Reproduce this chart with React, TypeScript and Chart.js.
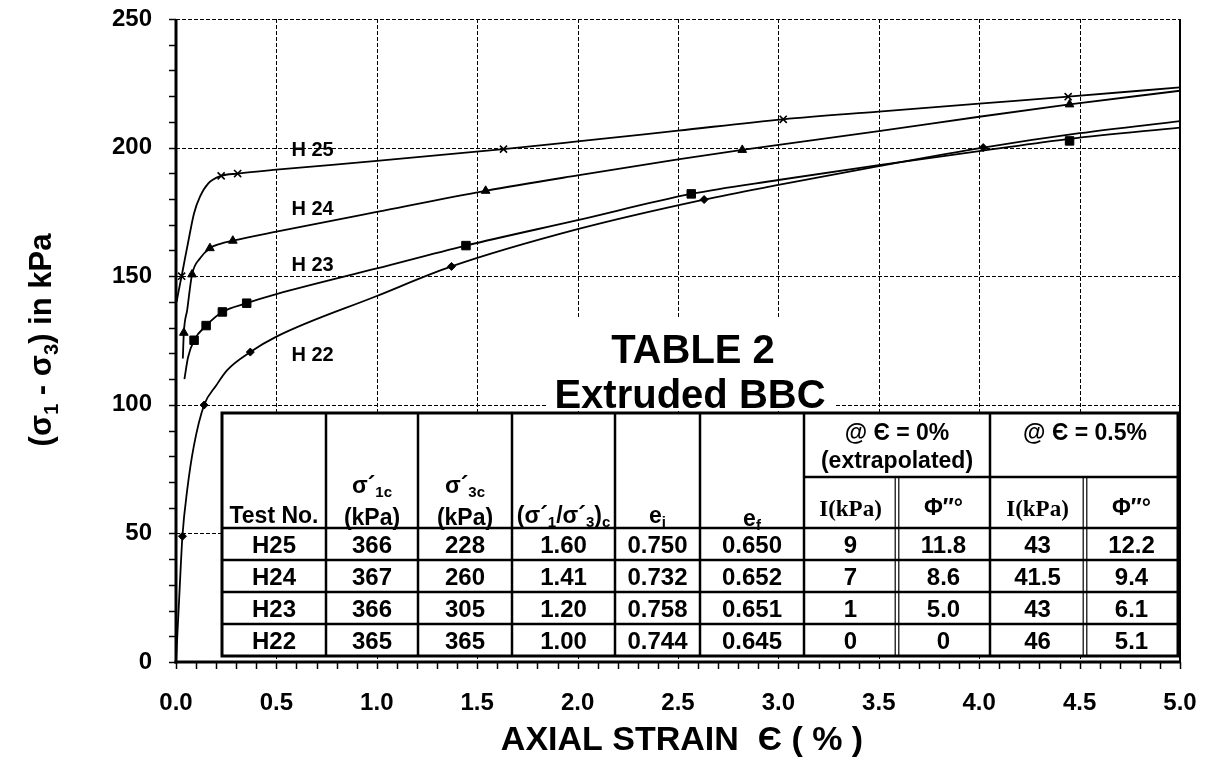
import { useEffect, useRef } from 'react';
import { Chart, registerables } from 'chart.js';

Chart.register(...registerables);

// ---- Test readings: axial strain (%) and deviator stress (kPa) ----
const h25Strain = [0.028, 0.225, 0.307, 1.631, 3.024, 4.443];
const h25Stress = [150.0, 189.0, 189.9, 199.4, 211.0, 219.8];

const h24Strain = [0.039, 0.08, 0.169, 0.283, 1.542, 2.82, 4.45];
const h24Stress = [128.0, 150.7, 160.9, 163.8, 183.2, 199.1, 216.8];

const h23Strain = [0.09, 0.15, 0.231, 0.352, 1.444, 2.566, 4.45];
const h23Stress = [125.1, 130.8, 136.1, 139.5, 161.9, 182.0, 202.6];

const h22Strain = [0.032, 0.14, 0.37, 1.372, 2.63, 4.02];
const h22Stress = [48.9, 99.9, 120.5, 153.8, 179.8, 200.0];

// ---- Smoothed stress–strain curves ----
const h25CurveStrain = [0.003, 0.015, 0.028, 0.045, 0.06, 0.09, 0.12, 0.16, 0.225, 0.307, 0.5, 1.0, 1.631, 2.0, 2.5, 3.024, 3.5, 4.0, 4.443, 5.0];
const h25CurveStress = [140, 145, 150, 157, 163, 174.5, 181, 186, 189.0, 189.9, 191.4, 194.8, 199.4, 202.4, 206.6, 211.0, 214.0, 217.1, 219.8, 223.4];

const h24CurveStrain = [0.034, 0.039, 0.056, 0.064, 0.08, 0.12, 0.169, 0.22, 0.283, 0.5, 1.0, 1.542, 2.0, 2.5, 2.82, 3.5, 4.0, 4.45, 5.0];
const h24CurveStress = [118, 128, 137, 142, 150.7, 157, 160.9, 162.6, 163.8, 167.3, 175.0, 183.2, 189.2, 195.4, 199.1, 206.4, 212.0, 216.8, 222.1];

const h23CurveStrain = [0.042, 0.06, 0.09, 0.15, 0.231, 0.352, 0.5, 1.0, 1.444, 2.0, 2.566, 3.0, 3.5, 4.0, 4.45, 5.0];
const h23CurveStress = [110, 118.5, 125.1, 130.8, 136.1, 139.5, 143, 153, 161.9, 171.8, 182.0, 187.4, 193.2, 198.6, 203.4, 207.8];

const h22CurveStrain = [0, 0.016, 0.032, 0.056, 0.089, 0.14, 0.2, 0.255, 0.37, 0.5, 1.0, 1.372, 2.0, 2.63, 3.0, 3.5, 4.02, 4.5, 5.0];
const h22CurveStress = [0, 25, 48.9, 67, 84, 99.9, 107.5, 113.5, 120.5, 126.5, 142.3, 153.8, 168.3, 179.8, 185.5, 192.8, 200.0, 205.6, 210.3];

// Curve tags: text, strain at left edge, stress at text centre
const curveTags = ['H 25', 'H 24', 'H 23', 'H 22'];
const curveTagStrain = [0.575, 0.575, 0.575, 0.575];
const curveTagStress = [199.6, 176.5, 154.7, 119.7];

// ---- Table 2 contents ----
const testNo = ['H25', 'H24', 'H23', 'H22'];
const sigma1c = ['366', '367', '366', '365'];
const sigma3c = ['228', '260', '305', '365'];
const stressRatio = ['1.60', '1.41', '1.20', '1.00'];
const voidInitial = ['0.750', '0.732', '0.758', '0.744'];
const voidFinal = ['0.650', '0.652', '0.651', '0.645'];
const intercept0 = ['9', '7', '1', '0'];
const phi0 = ['11.8', '8.6', '5.0', '0'];
const intercept05 = ['43', '41.5', '43', '46'];
const phi05 = ['12.2', '9.4', '6.1', '5.1'];

const SANS = "'Liberation Sans', Arial, sans-serif";
const SERIF = "'Liberation Serif', 'Times New Roman', serif";

const toPoints = (xs: number[], ys: number[]) => xs.map((x, i) => ({ x, y: ys[i] }));

type Seg = { t: string; size?: number; rise?: number; serif?: boolean };

function drawRich(ctx: CanvasRenderingContext2D, segs: Seg[], cx: number, baseline: number, base: number) {
  const fonts = segs.map((s) => `bold ${s.size ?? base}px ${s.serif ? SERIF : SANS}`);
  const widths = segs.map((s, i) => {
    ctx.font = fonts[i];
    return ctx.measureText(s.t).width;
  });
  let x = cx - widths.reduce((a, b) => a + b, 0) / 2;
  ctx.textAlign = 'left';
  ctx.textBaseline = 'alphabetic';
  segs.forEach((s, i) => {
    ctx.font = fonts[i];
    ctx.fillText(s.t, x, baseline - (s.rise ?? 0));
    x += widths[i];
  });
}

function seg(ctx: CanvasRenderingContext2D, x1: number, y1: number, x2: number, y2: number) {
  ctx.beginPath();
  ctx.moveTo(x1, y1);
  ctx.lineTo(x2, y2);
  ctx.stroke();
}

// Table layout (canvas pixels)
const COLS = [222, 326, 418, 512, 615, 700, 804, 897, 990, 1085, 1178];
const ROWS = [413, 477, 528, 560, 592, 624, 656];

function drawTable(ctx: CanvasRenderingContext2D) {
  const [L, R] = [COLS[0], COLS[COLS.length - 1]];
  const [T, B] = [ROWS[0], ROWS[ROWS.length - 1]];
  ctx.save();
  ctx.fillStyle = '#fff';
  ctx.fillRect(L, T, R - L, B - T);
  ctx.strokeStyle = '#000';
  ctx.setLineDash([]);

  // inner horizontal rules
  ctx.lineWidth = 2.5;
  seg(ctx, COLS[6], ROWS[1], R, ROWS[1]);
  for (let r = 2; r < ROWS.length - 1; r++) seg(ctx, L, ROWS[r], R, ROWS[r]);
  // inner vertical rules
  for (let c = 1; c <= 6; c++) seg(ctx, COLS[c], T, COLS[c], B);
  seg(ctx, COLS[8], T, COLS[8], B);
  // double rules inside the merged groups
  ctx.lineWidth = 1.2;
  for (const c of [7, 9]) {
    seg(ctx, COLS[c] - 1.8, ROWS[1], COLS[c] - 1.8, B);
    seg(ctx, COLS[c] + 1.8, ROWS[1], COLS[c] + 1.8, B);
  }
  // frame
  ctx.lineWidth = 3;
  ctx.strokeRect(L, T, R - L, B - T);

  ctx.fillStyle = '#000';
  const fs = 23;
  const sub = 15;
  const mid = (c: number) => (COLS[c] + COLS[c + 1]) / 2;

  drawRich(ctx, [{ t: 'Test No.' }], mid(0), 523, fs);
  drawRich(ctx, [{ t: 'σ´' }, { t: '1c', size: sub, rise: -4 }], mid(1), 493, fs);
  drawRich(ctx, [{ t: '(kPa)' }], mid(1), 525, fs);
  drawRich(ctx, [{ t: 'σ´' }, { t: '3c', size: sub, rise: -4 }], mid(2), 493, fs);
  drawRich(ctx, [{ t: '(kPa)' }], mid(2), 525, fs);
  drawRich(
    ctx,
    [
      { t: '(σ´', size: 23 },
      { t: '1', size: 15, rise: -4 },
      { t: '/σ´', size: 23 },
      { t: '3', size: 15, rise: -4 },
      { t: ')', size: 23 },
      { t: 'c', size: 15, rise: -4 },
    ],
    mid(3),
    523,
    fs
  );
  drawRich(ctx, [{ t: 'e' }, { t: 'i', size: sub, rise: -4 }], mid(4), 523, fs);
  drawRich(ctx, [{ t: 'e' }, { t: 'f', size: sub, rise: -4 }], mid(5), 526, fs);
  drawRich(ctx, [{ t: '@ Є = 0%' }], COLS[7], 440, fs);
  drawRich(ctx, [{ t: '(extrapolated)' }], COLS[7], 468, fs);
  drawRich(ctx, [{ t: '@ Є = 0.5%' }], COLS[9], 440, fs);
  drawRich(ctx, [{ t: 'I(kPa)', serif: true }], mid(6), 516, fs);
  drawRich(ctx, [{ t: 'Φ″°' }], mid(7), 515, fs);
  drawRich(ctx, [{ t: 'I(kPa)', serif: true }], mid(8), 516, fs);
  drawRich(ctx, [{ t: 'Φ″°' }], mid(9), 515, fs);

  const columns = [testNo, sigma1c, sigma3c, stressRatio, voidInitial, voidFinal, intercept0, phi0, intercept05, phi05];
  for (let r = 0; r < 4; r++) {
    const base = (ROWS[r + 2] + ROWS[r + 3]) / 2 + 8.5;
    columns.forEach((col, c) => drawRich(ctx, [{ t: col[r] }], mid(c), base, 24));
  }
  ctx.restore();
}

const paperPlugin = {
  id: 'paper',
  beforeDatasetsDraw(chart: any) {
    const { ctx, chartArea: a, scales } = chart;
    const xs = scales.x;
    const ys = scales.y;
    ctx.save();
    ctx.strokeStyle = '#000';

    // dashed grid
    ctx.lineWidth = 1;
    ctx.setLineDash([4, 2]);
    for (const t of xs.ticks) {
      if (t.value <= 0 || t.value >= 5) continue;
      const px = Math.round(xs.getPixelForValue(t.value)) + 0.5;
      seg(ctx, px, a.top, px, a.bottom);
    }
    for (const t of ys.ticks) {
      if (t.value <= 0) continue;
      const py = Math.round(ys.getPixelForValue(t.value)) + 0.5;
      seg(ctx, a.left, py, a.right, py);
    }
    ctx.setLineDash([]);

    // right frame
    ctx.lineWidth = 2;
    seg(ctx, a.right, a.top, a.right, a.bottom);

    // minor tick marks
    ctx.lineWidth = 1.5;
    for (let v = 0; v <= 250.001; v += 10) {
      const py = Math.round(ys.getPixelForValue(v)) + 0.5;
      seg(ctx, a.left - 7, py, a.left, py);
    }
    for (let i = 0; i <= 50; i++) {
      const px = Math.round(xs.getPixelForValue(i / 10)) + 0.5;
      seg(ctx, px, a.bottom, px, a.bottom + 7);
    }

    // axes
    ctx.lineWidth = 3;
    seg(ctx, a.left, a.top, a.left, a.bottom + 1.5);
    seg(ctx, a.left - 1.5, a.bottom, a.right, a.bottom);
    ctx.restore();
  },
  afterDatasetsDraw(chart: any) {
    const { ctx, scales } = chart;
    const xs = scales.x;
    const ys = scales.y;
    ctx.save();
    ctx.fillStyle = '#000';

    // curve tags
    ctx.font = `bold 20px ${SANS}`;
    ctx.textAlign = 'left';
    ctx.textBaseline = 'alphabetic';
    curveTags.forEach((t, i) => {
      ctx.fillText(t, xs.getPixelForValue(curveTagStrain[i]), ys.getPixelForValue(curveTagStress[i]) + 7);
    });

    // title block
    ctx.fillStyle = '#fff';
    ctx.fillRect(548, 318, 287, 93);
    ctx.fillStyle = '#000';
    drawRich(ctx, [{ t: 'TABLE 2' }], 693, 363, 40);
    drawRich(ctx, [{ t: 'Extruded BBC' }], 690, 408, 40);

    drawTable(ctx);

    // axis titles
    drawRich(ctx, [{ t: 'AXIAL STRAIN  Є ( % )' }], 682, 750, 34);
    ctx.save();
    ctx.translate(40, 340);
    ctx.rotate(-Math.PI / 2);
    drawRich(
      ctx,
      [
        { t: '(σ' },
        { t: '1', size: 20, rise: -7 },
        { t: ' - σ' },
        { t: '3', size: 20, rise: -7 },
        { t: ') in kPa' },
      ],
      0,
      11,
      31
    );
    ctx.restore();
    ctx.restore();
  },
};

export default function App() {
  const canvasRef = useRef<HTMLCanvasElement | null>(null);

  useEffect(() => {
    const canvas = canvasRef.current;
    if (!canvas) return;
    const tickFont = { family: SANS, size: 24, weight: 'bold' as const };
    const markers = (label: string, xs: number[], ys: number[], style: string, r: number) => ({
      label,
      data: toPoints(xs, ys),
      showLine: false,
      pointStyle: style,
      pointRadius: r,
      pointBackgroundColor: '#000',
      pointBorderColor: '#000',
      pointBorderWidth: style === 'crossRot' ? 1.6 : 1,
    });
    const curve = (label: string, xs: number[], ys: number[]) => ({
      label,
      data: toPoints(xs, ys),
      showLine: true,
      pointRadius: 0,
      borderColor: '#000',
      borderWidth: 1.8,
      cubicInterpolationMode: 'monotone' as const,
    });
    const noEdgePadding = (s: any) => {
      s.paddingLeft = 0;
      s.paddingRight = 0;
      s.paddingTop = 0;
      s.paddingBottom = 0;
    };

    const chart = new Chart(canvas, {
      type: 'scatter',
      data: {
        datasets: [
          markers('H25', h25Strain, h25Stress, 'crossRot', 5),
          markers('H24', h24Strain, h24Stress, 'triangle', 5),
          markers('H23', h23Strain, h23Stress, 'rect', 6),
          markers('H22', h22Strain, h22Stress, 'rectRot', 4),
          curve('H25 curve', h25CurveStrain, h25CurveStress),
          curve('H24 curve', h24CurveStrain, h24CurveStress),
          curve('H23 curve', h23CurveStrain, h23CurveStress),
          curve('H22 curve', h22CurveStrain, h22CurveStress),
        ] as any,
      },
      options: {
        animation: false,
        responsive: false,
        layout: { padding: { top: 19, right: 26, left: 0, bottom: 0 } },
        plugins: { legend: { display: false }, tooltip: { enabled: false } },
        scales: {
          x: {
            type: 'linear',
            min: 0,
            max: 5,
            ticks: {
              stepSize: 0.5,
              color: '#000',
              font: tickFont,
              padding: 27,
              maxRotation: 0,
              autoSkip: false,
              callback: (v: any) => Number(v).toFixed(1),
            },
            grid: { display: false, drawTicks: false },
            border: { display: false },
            afterFit: (s: any) => {
              s.height = 109;
              noEdgePadding(s);
            },
          },
          y: {
            type: 'linear',
            min: 0,
            max: 250,
            ticks: { stepSize: 50, color: '#000', font: tickFont, padding: 24 },
            grid: { display: false, drawTicks: false },
            border: { display: false },
            afterFit: (s: any) => {
              s.width = 176;
              noEdgePadding(s);
            },
          },
        },
      },
      plugins: [paperPlugin],
    });
    return () => chart.destroy();
  }, []);

  return (
    <div style={{ position: 'fixed', left: 0, top: 0, width: 1206, height: 771, background: '#fff' }}>
      <canvas ref={canvasRef} width={1206} height={771} style={{ display: 'block' }} />
    </div>
  );
}
